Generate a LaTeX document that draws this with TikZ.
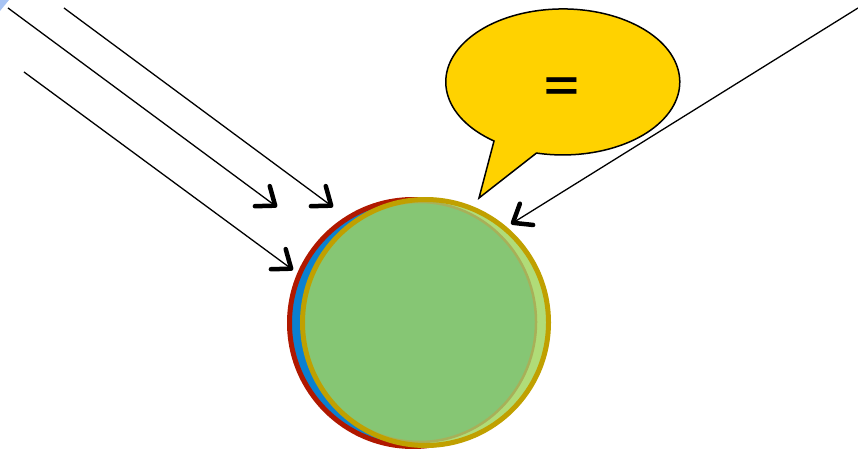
\documentclass[tikz,border=0pt]{standalone}
\usepackage{fontspec}
\newfontfamily\bubblefont{Carlito}
\usetikzlibrary{arrows.meta}
\definecolor{rimred}{HTML}{B01800}
\definecolor{coreblue}{HTML}{0A80D0}
\definecolor{rimgold}{HTML}{C0A000}
\definecolor{rimolive}{HTML}{A8B058}
\definecolor{palegreen}{HTML}{B0DC78}
\definecolor{leafgreen}{HTML}{86C674}
\definecolor{bubbleyellow}{HTML}{FFD200}
\definecolor{cornerblue}{HTML}{A8C4F4}
\begin{document}
\begin{tikzpicture}[x=1pt,y=-1pt,
  ray/.style={line width=1.3pt,
    -{Straight Barb[length=16pt,width=25pt,line width=4.5pt 0,round]}},
  bubble/.style={fill=bubbleyellow,draw=black,line width=1.5pt},
  eqsign/.style={font=\bubblefont\fontsize{74}{74}\selectfont,inner sep=0pt}
]
\useasboundingbox (0,0) rectangle (858,449);
% small tinted corner
\fill[cornerblue] (0,0) -- (9,0) -- (0,11) -- cycle;

% layered disc
\draw[rimred,line width=5pt,fill=coreblue] (413,323) circle[radius=123.5];
\fill[palegreen] (425.5,322.5) circle[radius=123];
\draw[rimolive,line width=2.5pt,fill=leafgreen] (419.5,322) ellipse[x radius=116.5,y radius=120];
\draw[rimgold,line width=5pt] (425.5,322.5) circle[radius=123];

% speech bubble
\filldraw[bubble] (479,198) -- (494,141)
  arc[start angle=126,end angle=463,x radius=117,y radius=73] -- cycle;
\node[eqsign] (eq) at (562,94) {=};

% incoming rays
\coordinate (r1s) at (8,8);    \coordinate (r1e) at (277,207);
\coordinate (r2s) at (64,8);   \coordinate (r2e) at (333,207);
\coordinate (r3s) at (24,72);  \coordinate (r3e) at (293,270);
\coordinate (r4s) at (858,8);  \coordinate (r4e) at (511,224);
\draw[ray] (r1s) -- (r1e);
\draw[ray] (r2s) -- (r2e);
\draw[ray] (r3s) -- (r3e);
\draw[ray] (r4s) -- (r4e);
\end{tikzpicture}
\end{document}
